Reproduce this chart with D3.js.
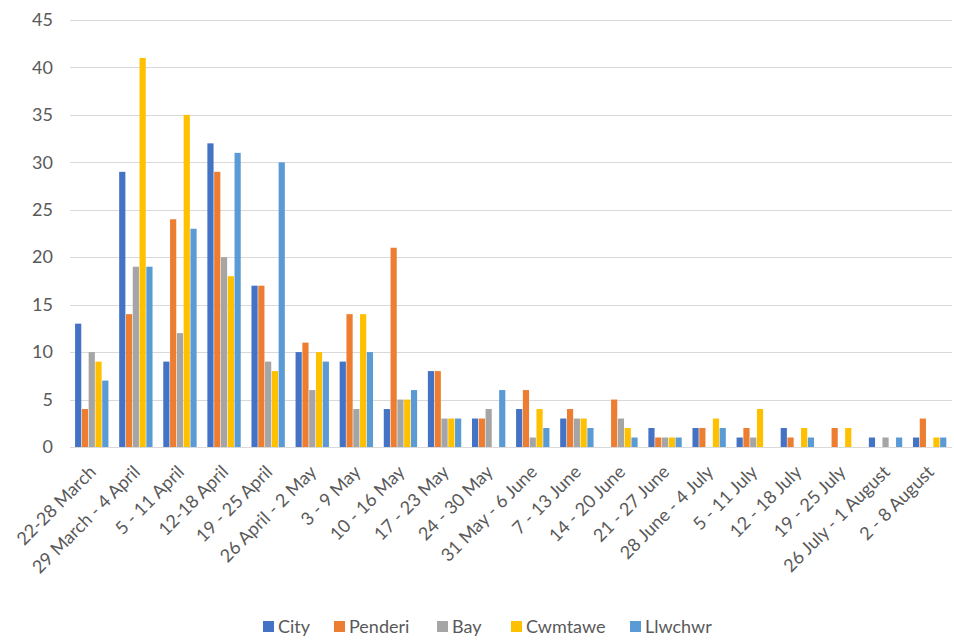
<!DOCTYPE html>
<html>
<head>
<meta charset="utf-8">
<script src="https://cdn.jsdelivr.net/npm/d3@7"></script>
<style>
  body { margin: 0; background: #fff; }
  svg { display: block; font-family: Lato, "Open Sans", sans-serif; }
</style>
</head>
<body>
<figure id="chart" style="margin:0"></figure>
<script>
const categories = [
  "22-28 March", "29 March - 4 April", "5 - 11 April", "12-18 April", "19 - 25 April",
  "26 April - 2 May", "3 - 9 May", "10 - 16 May", "17 - 23 May", "24 - 30 May",
  "31 May - 6 June", "7 - 13 June", "14 - 20 June", "21 - 27 June", "28 June - 4 July",
  "5 - 11 July", "12 - 18 July", "19 - 25 July", "26 July - 1 August", "2 - 8 August"
];
const seriesNames = ["City", "Penderi", "Bay", "Cwmtawe", "Llwchwr"];
const city    = [13, 29, 9, 32, 17, 10, 9, 4, 8, 3, 4, 3, 0, 2, 2, 1, 2, 0, 1, 1];
const penderi = [4, 14, 24, 29, 17, 11, 14, 21, 8, 3, 6, 4, 5, 1, 2, 2, 1, 2, 0, 3];
const bay     = [10, 19, 12, 20, 9, 6, 4, 5, 3, 4, 1, 3, 3, 1, 0, 1, 0, 0, 1, 0];
const cwmtawe = [9, 41, 35, 18, 8, 10, 14, 5, 3, 0, 4, 3, 2, 1, 3, 4, 2, 2, 0, 1];
const llwchwr = [7, 19, 23, 31, 30, 9, 10, 6, 3, 6, 2, 2, 1, 1, 2, 0, 1, 0, 1, 1];
const yTicks = [0, 5, 10, 15, 20, 25, 30, 35, 40, 45];
const colors = ["#4472C4", "#ED7D31", "#A5A5A5", "#FFC000", "#5B9BD5"];

const seriesValues = [city, penderi, bay, cwmtawe, llwchwr];

const width = 954, height = 640;
const margin = { top: 20, right: 2, bottom: 193, left: 70 };
const innerW = width - margin.left - margin.right;
const innerH = height - margin.top - margin.bottom;

const svg = d3.select("figure#chart")
  .append("svg")
  .attr("width", width)
  .attr("height", height);

const g = svg.append("g")
  .attr("transform", "translate(" + margin.left + "," + margin.top + ")");

const x = d3.scaleBand()
  .domain(categories)
  .range([0, innerW])
  .paddingInner(0.23)
  .paddingOuter(0.115);

const xs = d3.scaleBand()
  .domain(seriesNames)
  .range([0, x.bandwidth()]);

const y = d3.scaleLinear()
  .domain([0, 45])
  .range([innerH, 0]);

// gridlines
g.append("g")
  .selectAll("line")
  .data(yTicks)
  .enter()
  .append("line")
  .attr("x1", 0)
  .attr("x2", innerW)
  .attr("y1", d => Math.round(y(d)) + 0.5)
  .attr("y2", d => Math.round(y(d)) + 0.5)
  .attr("stroke", "#d9d9d9")
  .attr("stroke-width", 1);

// y axis labels
g.append("g")
  .call(d3.axisLeft(y).tickValues(yTicks).tickSize(0).tickPadding(17))
  .call(a => a.select(".domain").remove())
  .selectAll("text")
  .attr("font-size", 18)
  .attr("font-family", "Lato, sans-serif")
  .attr("fill", "#595959");

// bars
const groups = g.append("g")
  .selectAll("g")
  .data(seriesNames)
  .enter()
  .append("g")
  .attr("fill", (d, i) => colors[i]);

groups.selectAll("rect")
  .data((s, i) => seriesValues[i].map((v, j) => ({ cat: categories[j], s: s, v: v })))
  .enter()
  .append("rect")
  .attr("x", d => x(d.cat) + xs(d.s))
  .attr("y", d => y(d.v))
  .attr("width", xs.bandwidth() - 0.6)
  .attr("height", d => innerH - y(d.v));

// x axis
const xAxis = g.append("g")
  .attr("transform", "translate(0," + innerH + ")")
  .call(d3.axisBottom(x).tickSize(0).tickPadding(8));
xAxis.select(".domain").remove();
xAxis.selectAll("text")
  .attr("font-size", 18)
  .attr("font-family", "Lato, sans-serif")
  .attr("fill", "#595959")
  .style("text-anchor", "end")
  .attr("dy", "0.35em")
  .attr("transform", "translate(-5,16)rotate(-45)");

// legend
const legendItems = [
  { name: "City", x: 263 },
  { name: "Penderi", x: 334 },
  { name: "Bay", x: 437 },
  { name: "Cwmtawe", x: 511 },
  { name: "Llwchwr", x: 630 }
];
const legend = svg.append("g");
legend.selectAll("rect")
  .data(legendItems)
  .enter()
  .append("rect")
  .attr("x", d => d.x)
  .attr("y", 621)
  .attr("width", 11)
  .attr("height", 11)
  .attr("fill", (d, i) => colors[i]);
legend.selectAll("text")
  .data(legendItems)
  .enter()
  .append("text")
  .attr("x", d => d.x + 15)
  .attr("y", 627)
  .attr("dy", "0.35em")
  .attr("font-size", 18)
  .attr("fill", "#595959")
  .text(d => d.name);
</script>
</body>
</html>
